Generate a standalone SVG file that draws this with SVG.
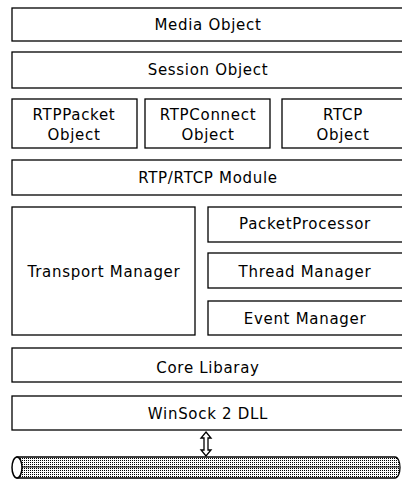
<svg xmlns="http://www.w3.org/2000/svg" width="402" height="479" viewBox="0 0 402 479">
<defs>
<style>
.box{fill:#fff;stroke:#000;stroke-width:1.3}
.t{font-family:"DejaVu Sans",sans-serif;font-size:15px;letter-spacing:0.7px;text-anchor:middle;fill:#000}
</style>
<pattern id="dots" width="2" height="2" patternUnits="userSpaceOnUse">
<rect width="2" height="2" fill="#fff"/>
<rect width="1" height="1" fill="#000"/>
</pattern>
</defs>
<rect width="402" height="479" fill="#fff"/>
<g id="media"><rect class="box" x="12" y="8" width="392" height="33"/><text class="t" x="208" y="30">Media Object</text></g>
<g id="session"><rect class="box" x="12" y="52" width="392" height="36"/><text class="t" x="208" y="75">Session Object</text></g>
<g id="rtppacket"><rect class="box" x="12" y="99" width="125" height="49"/><text class="t" x="74" y="120">RTPPacket</text><text class="t" x="74" y="140">Object</text></g>
<g id="rtpconnect"><rect class="box" x="145" y="99" width="125" height="49"/><text class="t" x="208" y="120">RTPConnect</text><text class="t" x="208" y="140">Object</text></g>
<g id="rtcp"><rect class="box" x="282" y="99" width="122" height="49"/><text class="t" x="343" y="120">RTCP</text><text class="t" x="343" y="140">Object</text></g>
<g id="rtpmodule"><rect class="box" x="12" y="160" width="392" height="35"/><text class="t" x="208" y="183">RTP/RTCP Module</text></g>
<g id="transport"><rect class="box" x="12" y="207" width="183" height="128"/><text class="t" x="104" y="277">Transport Manager</text></g>
<g id="packetproc"><rect class="box" x="208" y="207" width="196" height="35"/><text class="t" x="305" y="229">PacketProcessor</text></g>
<g id="thread"><rect class="box" x="208" y="253" width="196" height="35"/><text class="t" x="305" y="277">Thread Manager</text></g>
<g id="event"><rect class="box" x="208" y="301" width="196" height="34"/><text class="t" x="305" y="324">Event Manager</text></g>
<g id="core"><rect class="box" x="12" y="348" width="392" height="34"/><text class="t" x="208" y="373">Core Libaray</text></g>
<g id="winsock"><rect class="box" x="12" y="396" width="392" height="34"/><text class="t" x="208" y="419">WinSock 2 DLL</text></g>
<g id="network">
<path d="M17,457 L395,457 A5,10.5 0 0 1 395,478 L17,478 Z" fill="url(#dots)" stroke="#000" stroke-width="1.3"/>
<line x1="17" y1="467" x2="399" y2="467" stroke="#000" stroke-width="1"/>
<ellipse cx="17" cy="467.5" rx="5" ry="10.5" fill="#fff" stroke="#000" stroke-width="1.5"/>
</g>
<g id="connectors">
<polygon points="206,432 211,438 208,438 208,450 211,450 206,456 201,450 204,450 204,438 201,438" fill="#fff" stroke="#000" stroke-width="1.3"/>
</g>
</svg>
